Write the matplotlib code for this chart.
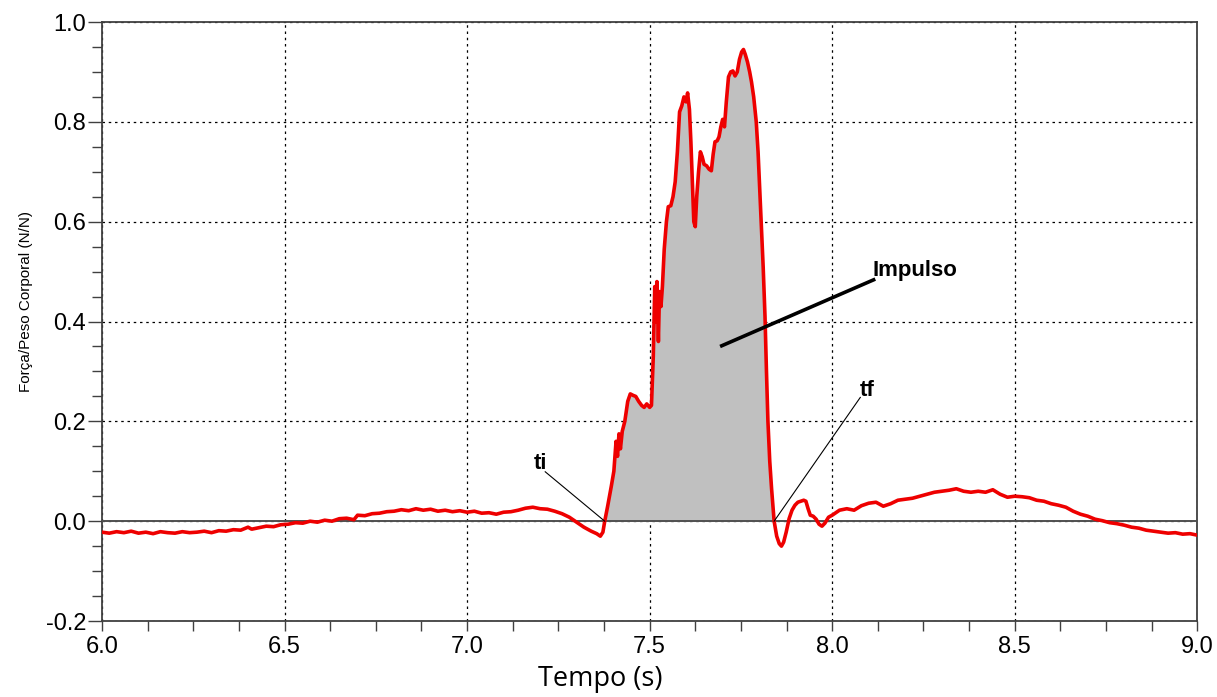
import matplotlib
matplotlib.use("Agg")
import matplotlib.pyplot as plt
from matplotlib.ticker import MultipleLocator
import numpy as np

plt.rcParams["font.family"] = ["Liberation Sans", "DejaVu Sans"]

tempo = [
    6.00, 6.02, 6.04, 6.06, 6.08, 6.10, 6.12, 6.14, 6.16, 6.18, 6.20, 6.22, 6.24, 6.26, 6.28,
    6.30, 6.32, 6.34, 6.36, 6.38, 6.40, 6.41, 6.43, 6.45, 6.47, 6.49, 6.51, 6.53, 6.55, 6.57,
    6.59, 6.61, 6.63, 6.65, 6.67, 6.69, 6.70, 6.72, 6.74, 6.76, 6.78, 6.80, 6.82, 6.84, 6.86,
    6.88, 6.90, 6.92, 6.94, 6.96, 6.98, 7.00, 7.02, 7.04, 7.06, 7.08, 7.10, 7.12, 7.14, 7.16,
    7.18, 7.20, 7.22, 7.24, 7.26, 7.28, 7.30, 7.32, 7.34, 7.355, 7.365, 7.372, 7.377, 7.385,
    7.395, 7.402, 7.408, 7.412, 7.416, 7.420, 7.425, 7.432, 7.440, 7.447, 7.455, 7.462, 7.470,
    7.478, 7.485, 7.492, 7.500, 7.505, 7.510, 7.514, 7.517, 7.520, 7.524, 7.527, 7.531, 7.535,
    7.540, 7.546, 7.551, 7.558, 7.564, 7.570, 7.576, 7.582, 7.588, 7.594, 7.600, 7.604, 7.609,
    7.613, 7.617, 7.621, 7.625, 7.629, 7.634, 7.639, 7.644, 7.649, 7.656, 7.663, 7.669, 7.674,
    7.679, 7.685, 7.690, 7.695, 7.700, 7.705, 7.710, 7.716, 7.722, 7.728, 7.734, 7.740, 7.746,
    7.752, 7.757, 7.762, 7.768, 7.774, 7.779, 7.785, 7.792, 7.797, 7.801, 7.806, 7.811, 7.816,
    7.820, 7.824, 7.829, 7.834, 7.841, 7.848, 7.855, 7.861, 7.867, 7.874, 7.882, 7.890, 7.898,
    7.906, 7.914, 7.922, 7.928, 7.934, 7.940, 7.948, 7.956, 7.964, 7.972, 7.980, 7.990, 8.00,
    8.02, 8.04, 8.06, 8.08, 8.10, 8.12, 8.14, 8.16, 8.18, 8.20, 8.22, 8.24, 8.26, 8.28, 8.30,
    8.32, 8.34, 8.36, 8.38, 8.40, 8.42, 8.44, 8.46, 8.48, 8.50, 8.52, 8.54, 8.56, 8.58, 8.60,
    8.62, 8.64, 8.66, 8.68, 8.70, 8.72, 8.74, 8.76, 8.78, 8.80, 8.82, 8.84, 8.86, 8.88, 8.90,
    8.92, 8.94, 8.96, 8.98, 9.00,
]

forca = [
    -0.022, -0.024, -0.021, -0.023, -0.020, -0.024, -0.022, -0.025, -0.021, -0.023, -0.024, -0.021, -0.023, -0.022, -0.020,
    -0.023, -0.019, -0.020, -0.017, -0.018, -0.012, -0.016, -0.013, -0.010, -0.011, -0.007, -0.006, -0.003, -0.004, 0.000,
    -0.002, 0.002, 0.000, 0.005, 0.006, 0.003, 0.012, 0.011, 0.015, 0.016, 0.019, 0.020, 0.023, 0.021, 0.025,
    0.022, 0.024, 0.020, 0.022, 0.019, 0.021, 0.018, 0.020, 0.016, 0.017, 0.014, 0.018, 0.019, 0.022, 0.026,
    0.028, 0.025, 0.024, 0.020, 0.015, 0.008, -0.002, -0.012, -0.020, -0.025, -0.030, -0.022, 0.000, 0.030,
    0.070, 0.100, 0.160, 0.130, 0.175, 0.145, 0.180, 0.200, 0.240, 0.255, 0.252, 0.250, 0.240,
    0.232, 0.228, 0.235, 0.228, 0.232, 0.330, 0.470, 0.400, 0.480, 0.360, 0.460, 0.430, 0.470,
    0.545, 0.600, 0.630, 0.632, 0.650, 0.680, 0.740, 0.820, 0.832, 0.850, 0.840, 0.858, 0.825,
    0.760, 0.680, 0.600, 0.590, 0.650, 0.700, 0.740, 0.730, 0.715, 0.712, 0.705, 0.702, 0.735,
    0.760, 0.762, 0.770, 0.790, 0.805, 0.790, 0.840, 0.890, 0.900, 0.902, 0.892, 0.900, 0.925,
    0.940, 0.945, 0.935, 0.920, 0.900, 0.880, 0.850, 0.800, 0.740, 0.675, 0.590, 0.509, 0.410,
    0.300, 0.200, 0.120, 0.065, 0.000, -0.030, -0.045, -0.050, -0.042, -0.022, 0.005, 0.022, 0.032,
    0.038, 0.040, 0.042, 0.040, 0.025, 0.012, 0.010, 0.004, -0.006, -0.010, -0.004, 0.008, 0.012,
    0.022, 0.025, 0.022, 0.031, 0.036, 0.038, 0.030, 0.035, 0.042, 0.044, 0.046, 0.050, 0.054, 0.058, 0.060,
    0.062, 0.065, 0.060, 0.058, 0.060, 0.058, 0.063, 0.054, 0.048, 0.050, 0.049, 0.047, 0.042, 0.040, 0.035,
    0.032, 0.028, 0.020, 0.014, 0.010, 0.004, 0.001, -0.003, -0.005, -0.008, -0.012, -0.014, -0.018, -0.020, -0.022,
    -0.024, -0.023, -0.026, -0.025, -0.028,
]

t_inicial = 7.377
t_final = 7.841
x_ticks = [6.0, 6.5, 7.0, 7.5, 8.0, 8.5, 9.0]
y_ticks = [-0.2, 0.0, 0.2, 0.4, 0.6, 0.8, 1.0]

t = np.array(tempo)
f = np.array(forca)

fig = plt.figure(figsize=(12.17, 6.97), dpi=100)
ax = fig.add_axes([0.0838, 0.109, 0.9, 0.8594])

ax.set_xlim(6.0, 9.0)
ax.set_ylim(-0.2, 1.0)

ax.set_xticks(x_ticks)
ax.set_yticks(y_ticks)
ax.set_xticklabels([f"{v:.1f}" for v in x_ticks], fontsize=17, family="Liberation Sans")
ax.set_yticklabels([f"{v:.1f}" for v in y_ticks], fontsize=17, family="Liberation Sans")
ax.xaxis.set_minor_locator(MultipleLocator(0.125))
ax.yaxis.set_minor_locator(MultipleLocator(0.05))

ax.grid(True, which="major", color="black", linestyle=(0, (2, 3)), linewidth=0.9, zorder=0)
ax.set_axisbelow(True)

ax.axhline(0.0, color="#505050", linewidth=1.4, zorder=3)

mask = (t >= t_inicial) & (t <= t_final)
ax.fill_between(t, f, 0, where=mask, color="#c0c0c0", linewidth=0, zorder=2, interpolate=True)
ax.plot(t, f, color="#ee0000", linewidth=2.6, zorder=4, solid_joinstyle="round")

for s in ax.spines.values():
    s.set_color("#404040")
    s.set_linewidth(1.3)

ax.tick_params(axis="y", which="major", direction="out", length=10, width=1, color="#404040", pad=1.5)
ax.tick_params(axis="y", which="minor", direction="out", length=7, width=1, color="#404040")
ax.tick_params(axis="x", which="major", direction="out", length=7, width=1, color="#404040", pad=4)
ax.tick_params(axis="x", which="minor", direction="out", length=7, width=1, color="#404040")

ax.set_xlabel("Tempo (s)", fontsize=19.5, family="Open Sans")
ax.xaxis.set_label_coords(0.455, -0.074)
ax.set_ylabel("Força/Peso Corporal (N/N)", fontsize=11, family="Liberation Sans")
ax.yaxis.set_label_coords(-0.063, 0.534)

# annotation leader lines
ax.plot([7.693, 8.118], [0.35, 0.485], color="black", linewidth=2.6, solid_capstyle="butt", zorder=5)
ax.plot([7.214, t_inicial], [0.099, 0.0], color="black", linewidth=0.8, zorder=5)
ax.plot([8.077, t_final], [0.248, 0.0], color="black", linewidth=0.8, zorder=5)

ax.text(8.111, 0.492, "Impulso", fontsize=16, fontweight="bold", family="Liberation Sans",
        ha="left", va="baseline", zorder=6)
ax.text(7.201, 0.116, "ti", fontsize=16, fontweight="bold", family="Liberation Sans",
        ha="center", va="center", zorder=6)
ax.text(8.097, 0.262, "tf", fontsize=16, fontweight="bold", family="Liberation Sans",
        ha="center", va="center", zorder=6)

fig.savefig("out.png", dpi=100)
